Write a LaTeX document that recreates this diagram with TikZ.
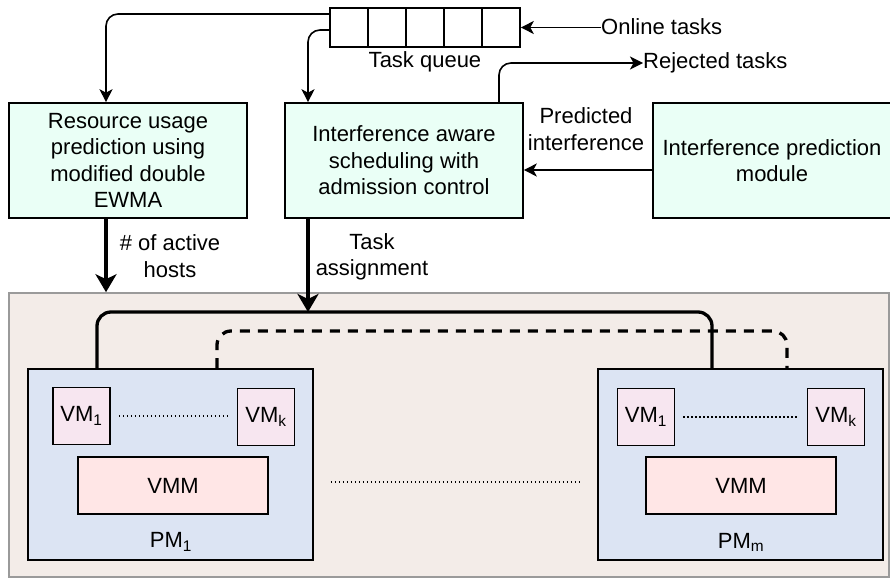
\documentclass[tikz,border=0pt]{standalone}
\usepackage{fontspec}
\setmainfont{Liberation Sans}
\usetikzlibrary{arrows.meta}
\definecolor{mint}{HTML}{EAFFF6}
\definecolor{bgc}{HTML}{F3ECE8}
\definecolor{pmc}{HTML}{DCE4F3}
\definecolor{vmc}{HTML}{F7E6F0}
\definecolor{vmmc}{HTML}{FFE6E6}
\definecolor{bgline}{HTML}{9A9A9A}
\tikzset{
  txt/.style={font=\fontsize{22}{26.4}\selectfont, align=center, inner sep=0pt},
  topbox/.style={txt, draw, line width=1.6pt, fill=mint, minimum width=238pt, minimum height=115pt},
  qcell/.style={draw, line width=1.6pt, fill=white, minimum width=38pt, minimum height=39pt, inner sep=0pt},
  pmbox/.style={txt, draw, line width=1.6pt, fill=pmc, minimum width=285pt, minimum height=191pt},
  vmbox/.style={txt, draw, line width=1.6pt, fill=vmc, minimum width=57pt, minimum height=57pt},
  vmmbox/.style={txt, draw, line width=1.6pt, fill=vmmc, minimum width=190pt, minimum height=57pt},
  thinarrow/.style={line width=1.6pt, -{Stealth[length=13pt, width=13pt, inset=3.5pt]}},
  thickarrow/.style={line width=3.3pt, -{Stealth[length=18pt, width=21pt, inset=5pt]}},
  busline/.style={line width=3.3pt, rounded corners=14pt},
  dotline/.style={line width=1.4pt, dash pattern=on 1.4pt off 2.6pt},
}
\begin{document}
\begin{tikzpicture}[x=1pt, y=-1pt]
\useasboundingbox (0,0) rectangle (890,578);
% background region
\node[draw=bgline, line width=1.6pt, fill=bgc, minimum width=880pt, minimum height=284pt, inner sep=0pt] (bg) at (449,435) {};
% task queue
\node[qcell] (q1) at (349,27.5) {};
\node[qcell] (q2) at (387,27.5) {};
\node[qcell] (q3) at (425,27.5) {};
\node[qcell] (q4) at (463,27.5) {};
\node[qcell] (q5) at (501,27.5) {};
\node[txt] (tq) at (425,62) {Task queue};
\node[txt, anchor=west] (online) at (601,27) {Online tasks};
\node[txt, anchor=west] (rej) at (643,63) {Rejected tasks};
% top boxes
\node[topbox] (box1) at (128,160.5) {Resource usage\\prediction using\\modified double\\EWMA};
\node[topbox] (box2) at (404,160.5) {Interference aware\\scheduling with\\admission control};
\node[topbox] (box3) at (772,160.5) {Interference prediction\\module};
\node[txt] (pilab) at (586,129) {Predicted\\interference};
\node[txt] (hostlab) at (170,256) {\# of active\\hosts};
\node[txt] (talab) at (372,257) {Task\\assignment};
% PMs
\node[pmbox] (pm1) at (170.5,464.5) {};
\node[vmbox] (vm11) at (81.5,416) {VM\textsubscript{1}};
\node[vmbox] (vm1k) at (266,417) {VM\textsubscript{k}};
\node[vmmbox] (vmm1) at (173,485.5) {VMM};
\node[txt] (pm1lab) at (171,542) {PM\textsubscript{1}};
\node[pmbox] (pmm) at (740.5,464.5) {};
\node[vmbox] (vmm1a) at (646,417) {VM\textsubscript{1}};
\node[vmbox] (vmmk) at (836,417) {VM\textsubscript{k}};
\node[vmmbox] (vmmm) at (741,485.5) {VMM};
\node[txt] (pmmlab) at (741,542) {PM\textsubscript{m}};
% dotted lines
\draw[dotline] ([xshift=8pt]vm11.east) -- ([xshift=-8pt]vm1k.west |- vm11.east);
\draw[dotline] ([xshift=8pt]vmm1a.east) -- ([xshift=-8pt]vmmk.west);
\coordinate (mid) at (450,482);
\draw[dotline] ([xshift=17pt]pm1.east |- mid) -- ([xshift=-17pt]pmm.west |- mid);
% connectors at top
\draw[thinarrow] (online.west |- q5.east) -- (q5.east);
\coordinate (c1) at (106,14);
\coordinate (c2) at (308,30);
\coordinate (c3) at (499,63);
\draw[thinarrow, rounded corners=12pt] (q1.west |- c1) -| (box1.north -| c1);
\draw[thinarrow, rounded corners=12pt] (q1.west |- c2) -| (box2.north -| c2);
\draw[thinarrow, rounded corners=12pt] (box2.north -| c3) |- (rej.west);
\coordinate (pr) at (600,170);
\draw[thinarrow] (box3.west |- pr) -- (box2.east |- pr);
% thick arrows
\draw[thickarrow] (box1.south -| c1) -- (bg.north -| c1);
\coordinate (b1) at (97,312);
\coordinate (b2) at (712,312);
\coordinate (bt) at (308,312);
\draw[thickarrow] (box2.south -| c2) -- (bt);
% buses
\draw[busline] (pm1.north -| b1) -- (b1) -- (b2) -- (pmm.north -| b2);
\coordinate (d1) at (217,331);
\coordinate (d2) at (787,331);
\draw[busline, dash pattern=on 10pt off 8pt] (pm1.north -| d1) -- (d1) -- (d2) -- (pmm.north -| d2);
\end{tikzpicture}
\end{document}
